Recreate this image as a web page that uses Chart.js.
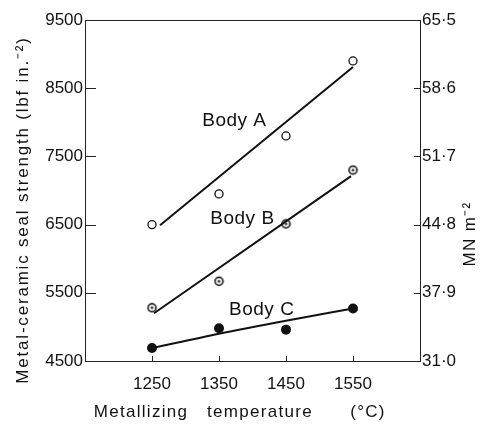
<!DOCTYPE html>
<html>
<head>
<meta charset="utf-8">
<title>Metal-ceramic seal strength</title>
<script src="https://cdn.jsdelivr.net/npm/chart.js@4.4.1/dist/chart.umd.min.js"></script>
<style>
  html, body { margin: 0; padding: 0; background: #fff; }
  #wrap { width: 481px; height: 426px; }
</style>
</head>
<body>
<div id="wrap"><canvas id="chart" width="481" height="426"></canvas></div>
<script>
(function () {
  'use strict';

  // --- Data ---
  const temps = [1250, 1350, 1450, 1550];          // metallizing temperature (°C)
  const bodyA = [6500, 6950, 7800, 8900];          // seal strength, lbf in^-2
  const bodyB = [5280, 5670, 6510, 7300];
  const bodyC = [4690, 4980, 4960, 5270];

  // fitted lines
  const fitTempA = [1262, 1550];
  const fitA = [6490, 8810];
  const fitTempB = [1253, 1547];
  const fitB = [5200, 7210];
  const fitTempC = [1250, 1350, 1450, 1550];
  const fitC = [4690, 4900, 5090, 5270];

  // axes
  const xTicks = [1250, 1350, 1450, 1550];
  const lbfTicks = [4500, 5500, 6500, 7500, 8500, 9500];
  const mnTicks = [31.0, 37.9, 44.8, 51.7, 58.6, 65.5];
  const seriesNames = ['Body A', 'Body B', 'Body C'];

  const FONT = '"Liberation Sans", Arial, sans-serif';
  const INK = '#111';

  const toPts = (xs, ys) => xs.map((x, i) => ({ x: x, y: ys[i] }));

  // circle with a centre dot, used for Body B
  function dottedCircle() {
    const c = document.createElement('canvas');
    c.width = 11; c.height = 11;
    const g = c.getContext('2d');
    g.fillStyle = '#fff';
    g.strokeStyle = '#000';
    g.lineWidth = 1.5;
    g.beginPath(); g.arc(5.5, 5.5, 4, 0, Math.PI * 2); g.fill(); g.stroke();
    g.fillStyle = '#000';
    g.beginPath(); g.arc(5.5, 5.5, 1.2, 0, Math.PI * 2); g.fill();
    return c;
  }

  // --- inward ticks, top frame, titles and curve labels ---
  const decor = {
    id: 'decor',
    afterDraw(chart) {
      const { ctx, chartArea: a, scales } = chart;
      ctx.save();
      ctx.strokeStyle = '#222';
      ctx.lineWidth = 1;
      ctx.beginPath();
      ctx.moveTo(a.left, a.top + 0.5); ctx.lineTo(a.right, a.top + 0.5);
      scales.y.ticks.forEach(t => {
        const py = Math.round(scales.y.getPixelForValue(t.value)) + 0.5;
        ctx.moveTo(a.left, py); ctx.lineTo(a.left + 11, py);
      });
      scales.y2.ticks.forEach(t => {
        const py = Math.round(scales.y2.getPixelForValue(t.value)) + 0.5;
        ctx.moveTo(a.right, py); ctx.lineTo(a.right - 6, py);
      });
      scales.x.ticks.forEach(t => {
        const px = Math.round(scales.x.getPixelForValue(t.value)) + 0.5;
        ctx.moveTo(px, a.bottom); ctx.lineTo(px, a.bottom - 5);
      });
      ctx.stroke();

      ctx.fillStyle = INK;
      ctx.textBaseline = 'middle';
      ctx.textAlign = 'center';
      ctx.letterSpacing = '1.8px';
      ctx.font = '17px ' + FONT;

      // left title
      ctx.save();
      ctx.translate(23, 210);
      ctx.rotate(-Math.PI / 2);
      ctx.fillText('Metal-ceramic seal strength (lbf in.\u207B\u00B2)', 0, 0);
      ctx.restore();

      // right title
      ctx.letterSpacing = '1.3px';
      ctx.save();
      ctx.translate(470, 234);
      ctx.rotate(-Math.PI / 2);
      ctx.fillText('MN m\u207B\u00B2', 0, 0);
      ctx.restore();

      // bottom title, widely spaced words
      ctx.fillText('Metallizing', 141, 412);
      ctx.fillText('temperature', 260, 412);
      ctx.fillText('(\u00B0C)', 368, 412);

      // curve labels
      const anchors = [[1325, 8019], [1337, 6582], [1365, 5248]];
      ctx.letterSpacing = '0.5px';
      ctx.font = '19px ' + FONT;
      ctx.textAlign = 'left';
      seriesNames.forEach((name, i) => {
        ctx.fillText(name,
          scales.x.getPixelForValue(anchors[i][0]),
          scales.y.getPixelForValue(anchors[i][1]));
      });
      ctx.restore();
    },
  };

  const lineStyle = {
    showLine: true,
    borderColor: INK,
    borderWidth: 2,
    pointRadius: 0,
    pointHoverRadius: 0,
    fill: false,
  };

  new Chart(document.getElementById('chart'), {
    type: 'scatter',
    data: {
      datasets: [
        Object.assign({ data: toPts(fitTempA, fitA) }, lineStyle),
        Object.assign({ data: toPts(fitTempB, fitB) }, lineStyle),
        Object.assign({ data: toPts(fitTempC, fitC), cubicInterpolationMode: 'monotone' }, lineStyle),
        {
          label: seriesNames[0],
          data: toPts(temps, bodyA),
          pointStyle: 'circle',
          pointRadius: 4,
          pointBackgroundColor: '#fff',
          pointBorderColor: INK,
          pointBorderWidth: 1.3,
        },
        {
          label: seriesNames[1],
          data: toPts(temps, bodyB),
          pointStyle: dottedCircle(),
        },
        {
          label: seriesNames[2],
          data: toPts(temps, bodyC),
          pointStyle: 'circle',
          pointRadius: 5,
          pointBackgroundColor: INK,
          pointBorderColor: INK,
          pointBorderWidth: 0,
        },
      ],
    },
    options: {
      responsive: false,
      animation: false,
      events: [],
      layout: { padding: { top: 20, left: 0, right: 0, bottom: 0 } },
      plugins: {
        legend: { display: false },
        tooltip: { enabled: false },
      },
      scales: {
        x: {
          type: 'linear',
          min: 1150,
          max: 1650,
          afterBuildTicks: s => { s.ticks = xTicks.map(v => ({ value: v })); },
          afterFit: s => { s.height = 65; },
          grid: { display: false, drawTicks: false },
          border: { display: true, color: '#222', width: 1 },
          ticks: {
            color: INK,
            padding: 13,
            maxRotation: 0,
            font: { family: FONT, size: 17 },
            callback: v => String(v),
          },
        },
        y: {
          type: 'linear',
          position: 'left',
          min: 4500,
          max: 9500,
          afterBuildTicks: s => { s.ticks = lbfTicks.map(v => ({ value: v })); },
          afterFit: s => { s.width = 85; },
          grid: { display: false, drawTicks: false },
          border: { display: true, color: '#222', width: 1 },
          ticks: {
            color: INK,
            padding: 2,
            font: { family: FONT, size: 17 },
            callback: v => String(v),
          },
        },
        y2: {
          type: 'linear',
          position: 'right',
          min: 31.0,
          max: 65.5,
          afterBuildTicks: s => { s.ticks = mnTicks.map(v => ({ value: v })); },
          afterFit: s => { s.width = 61; },
          grid: { display: false, drawTicks: false },
          border: { display: true, color: '#222', width: 1 },
          ticks: {
            color: INK,
            padding: 2,
            font: { family: FONT, size: 17 },
            callback: v => v.toFixed(1).replace('.', '\u00B7'),
          },
        },
      },
    },
    plugins: [decor],
  });
})();
</script>
</body>
</html>
